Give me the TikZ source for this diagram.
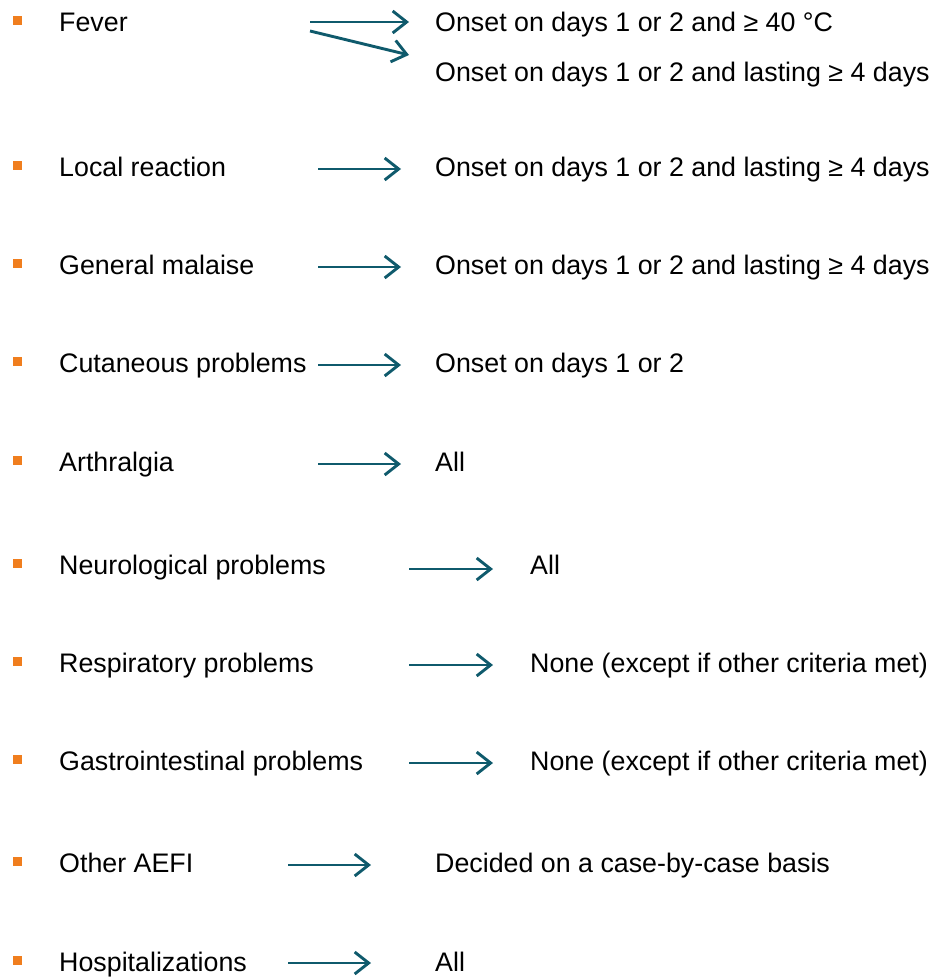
\documentclass[tikz,border=0pt]{standalone}
\usepackage{fontspec}
\setmainfont{Liberation Sans}
\usetikzlibrary{arrows.meta}
\definecolor{arrowteal}{HTML}{0F5A6C}
\definecolor{bulletorange}{HTML}{F07E1E}
\begin{document}
\begin{tikzpicture}[x=1pt,y=-1pt,
  lbl/.style={anchor=base west,inner sep=0pt,font=\fontsize{26.8}{30}\selectfont,text=black},
  bul/.style={fill=bulletorange,draw=none,minimum size=9pt,inner sep=0pt},
  arr/.style={draw=arrowteal,line width=2.9pt,-{Straight Barb[length=14pt,width=22pt,line width=2.9pt]}}]
\useasboundingbox (0,0) rectangle (934,977);
\foreach \n/\y in {1/22,2/167,3/265,4/363,5/462,6/565,7/663,8/761,9/863,10/962}{
  \node[bul] (b\n) at (17,\y-1.5) {};
}
\node[lbl] (l1) at (59,31.5) {Fever};
\node[lbl] (l2) at (59,176.5) {Local reaction};
\node[lbl] (l3) at (59,274.5) {General malaise};
\node[lbl] (l4) at (59,372.5) {Cutaneous problems};
\node[lbl] (l5) at (59,471.5) {Arthralgia};
\node[lbl] (l6) at (59,574.5) {Neurological problems};
\node[lbl] (l7) at (59,672.5) {Respiratory problems};
\node[lbl] (l8) at (59,770.5) {Gastrointestinal problems};
\node[lbl] (l9) at (59,872.5) {Other AEFI};
\node[lbl] (l10) at (59,971.5) {Hospitalizations};
\node[lbl] (r1a) at (435,31.5) {Onset on days 1 or 2 and ≥ 40 °C};
\node[lbl] (r1b) at (435,81.5) {Onset on days 1 or 2 and lasting ≥ 4 days};
\node[lbl] (r2) at (435,176.5) {Onset on days 1 or 2 and lasting ≥ 4 days};
\node[lbl] (r3) at (435,274.5) {Onset on days 1 or 2 and lasting ≥ 4 days};
\node[lbl] (r4) at (435,372.5) {Onset on days 1 or 2};
\node[lbl] (r5) at (435,471.5) {All};
\node[lbl] (r6) at (530,574.5) {All};
\node[lbl] (r7) at (530,672.5) {None (except if other criteria met)};
\node[lbl] (r8) at (530,770.5) {None (except if other criteria met)};
\node[lbl] (r9) at (435,872.5) {Decided on a case-by-case basis};
\node[lbl] (r10) at (435,971.5) {All};
\coordinate (s1a) at (310,22); \coordinate (e1a) at (409,22);
\coordinate (s1b) at (310,31); \coordinate (e1b) at (409,55);
\coordinate (s2) at (318,169); \coordinate (e2) at (401,169);
\coordinate (s3) at (318,267); \coordinate (e3) at (401,267);
\coordinate (s4) at (318,365); \coordinate (e4) at (401,365);
\coordinate (s5) at (318,464); \coordinate (e5) at (401,464);
\coordinate (s6) at (409,569); \coordinate (e6) at (493,569);
\coordinate (s7) at (409,665); \coordinate (e7) at (493,665);
\coordinate (s8) at (409,763); \coordinate (e8) at (493,763);
\coordinate (s9) at (288,865); \coordinate (e9) at (371,865);
\coordinate (s10) at (288,963); \coordinate (e10) at (371,963);
\foreach \a/\b in {s1a/e1a,s1b/e1b,s2/e2,s3/e3,s4/e4,s5/e5,s6/e6,s7/e7,s8/e8,s9/e9,s10/e10}{
  \draw[arr] (\a) -- (\b);
}
\end{tikzpicture}
\end{document}
